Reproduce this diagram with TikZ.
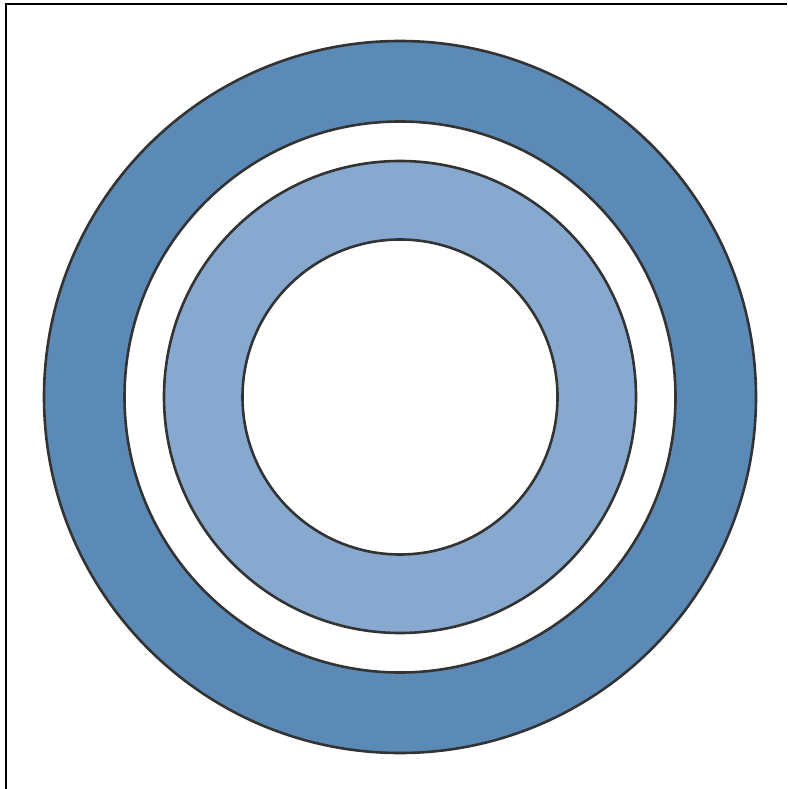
\documentclass[tikz,border=0pt]{standalone}
\begin{document}
\begin{tikzpicture}[x=1pt,y=-1pt,
  ring/.style={draw=black!80, line width=2.6pt},
  frameline/.style={draw=black, line width=1.8pt}]
\useasboundingbox (0,0) rectangle (787,789);
\fill[white] (0,0) rectangle (787,789);
\definecolor{darkring}{HTML}{5A8AB5}
\definecolor{lightring}{HTML}{87A9CF}
\coordinate (c) at (400,397);
\coordinate (tl) at (6,4);
\coordinate (tr) at (787,4);
\coordinate (bl) at (6,789);
\draw[frameline] (tr) -- (tl) -- (bl);
\path[ring, fill=darkring] (c) circle[radius=356];
\path[ring, fill=white] (c) circle[radius=275.5];
\path[ring, fill=lightring] (c) circle[radius=236];
\path[ring, fill=white] (c) circle[radius=157.5];
\end{tikzpicture}
\end{document}
